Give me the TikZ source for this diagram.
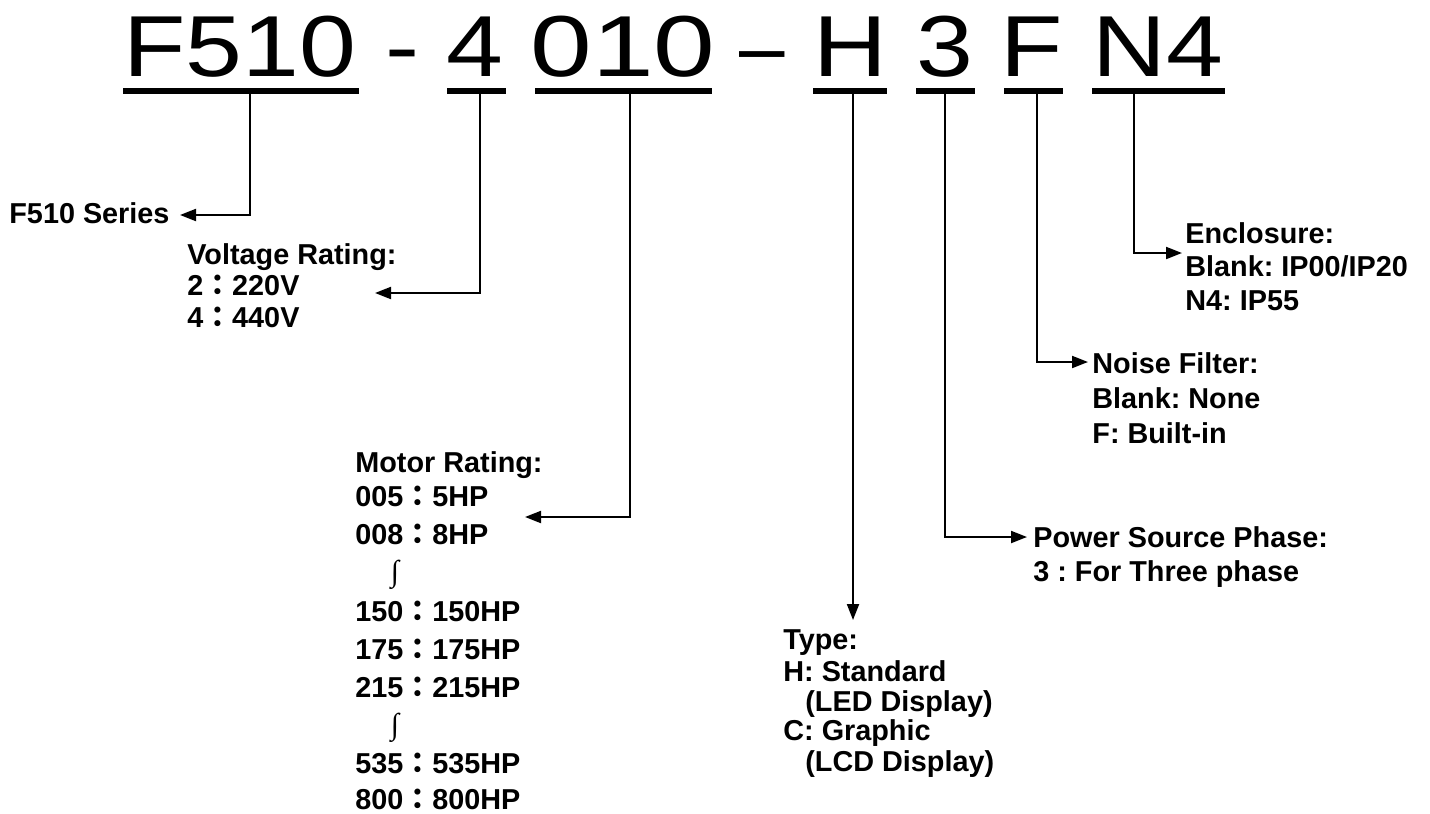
\documentclass[tikz,border=0pt]{standalone}
\usepackage{fontspec}
\setmainfont{Liberation Sans}
\newfontfamily\titlefont[FakeStretch=1.18]{Liberation Sans}
\newfontfamily\titlefontwide[FakeStretch=1.28]{Liberation Sans}
\newfontfamily\cjkfont{Noto Sans CJK TC}
\newfontfamily\intfont{Liberation Serif}
\usetikzlibrary{arrows.meta}
\newcommand{\fc}{{\cjkfont ：}}
\frenchspacing
\begin{document}
\frenchspacing
\begin{tikzpicture}[x=0.5pt,y=-0.5pt,
  code/.style={font=\titlefont\fontsize{43.3pt}{50pt}\selectfont, inner sep=0, anchor=base},
  codewide/.style={font=\titlefontwide\fontsize{43.3pt}{50pt}\selectfont, inner sep=0, anchor=base},
  uline/.style={line width=3pt},
  lbl/.style={font=\frenchspacing\bfseries\fontsize{14.4pt}{17pt}\selectfont, inner sep=0, anchor=base west},
  intg/.style={font=\intfont\fontsize{15pt}{18pt}\selectfont, inner sep=0, anchor=center},
  conn/.style={line width=1pt, -{Triangle[length=8pt,width=6pt]}},
]
\useasboundingbox (0,0) rectangle (1430,814);

% model code
\node[code] (cF) at (240,76) {F510};
\node[code] (cH1) at (403,76) {-};
\node[code] (c4) at (475,76) {4};
\node[codewide] (c010) at (623,76) {010};
\node[code] (cD) at (762,76) {\scalebox{0.8}[1]{–}};
\node[code] (cHt) at (850,76) {H};
\node[code] (c3) at (945,76) {3};
\node[code] (cFf) at (1032,76) {F};
\node[code] (cN4) at (1158,76) {N4};

% underlines
\draw[uline] (123,91) -- (359,91);
\draw[uline] (447,91) -- (506,91);
\draw[uline] (535,91) -- (712,91);
\draw[uline] (813,91) -- (887,91);
\draw[uline] (916,91) -- (975,91);
\draw[uline] (1004,91) -- (1063,91);
\draw[uline] (1092,91) -- (1225,91);

% tick coordinates
\coordinate (t1) at (250,92);
\coordinate (t2) at (480,92);
\coordinate (t3) at (630,92);
\coordinate (t4) at (853,92);
\coordinate (t5) at (945,92);
\coordinate (t6) at (1037,92);
\coordinate (t7) at (1134,92);

% arrow tips
\coordinate (serTip) at (180,215);
\coordinate (volTip) at (375,293);
\coordinate (motTip) at (525,517);
\coordinate (typTip) at (853,620);
\coordinate (pwrTip) at (1027,537);
\coordinate (noiTip) at (1088,362);
\coordinate (encTip) at (1182,253);

% labels
\node[lbl] (ser) at (9,223) {F510 Series};

\node[lbl] (vol0) at (187,264) {Voltage Rating:};
\node[lbl] (vol1) at (187,295.5) {2\fc 220V};
\node[lbl] (vol2) at (187,327) {4\fc 440V};

\node[lbl] (mot0) at (355,472) {Motor Rating:};
\node[lbl] (mot1) at (355,506) {005\fc 5HP};
\node[lbl] (mot2) at (355,544) {008\fc 8HP};
\node[intg] (int1) at (395,575) {∫};
\node[lbl] (mot3) at (355,621) {150\fc 150HP};
\node[lbl] (mot4) at (355,659) {175\fc 175HP};
\node[lbl] (mot5) at (355,697) {215\fc 215HP};
\node[intg] (int2) at (395,728) {∫};
\node[lbl] (mot6) at (355,773) {535\fc 535HP};
\node[lbl] (mot7) at (355,809) {800\fc 800HP};

\node[lbl] (typ0) at (783,649) {Type:};
\node[lbl] (typ1) at (783,681) {H: Standard};
\node[lbl] (typ2) at (805,711) {(LED Display)};
\node[lbl] (typ3) at (783,740) {C: Graphic};
\node[lbl] (typ4) at (805,771) {(LCD Display)};

\node[lbl] (pwr0) at (1033,547) {Power Source Phase:};
\node[lbl] (pwr1) at (1033,581) {3 : For Three phase};

\node[lbl] (noi0) at (1092,373) {Noise Filter:};
\node[lbl] (noi1) at (1092,408) {Blank: None};
\node[lbl] (noi2) at (1092,443) {F: Built-in};

\node[lbl] (enc0) at (1185,243) {Enclosure:};
\node[lbl] (enc1) at (1185,276.5) {Blank: IP00/IP20};
\node[lbl] (enc2) at (1185,310) {N4: IP55};

% connectors
\draw[conn] (t1) |- (serTip);
\draw[conn] (t2) |- (volTip);
\draw[conn] (t3) |- (motTip);
\draw[conn] (t4) -- (typTip);
\draw[conn] (t5) |- (pwrTip);
\draw[conn] (t6) |- (noiTip);
\draw[conn] (t7) |- (encTip);
\end{tikzpicture}
\end{document}
